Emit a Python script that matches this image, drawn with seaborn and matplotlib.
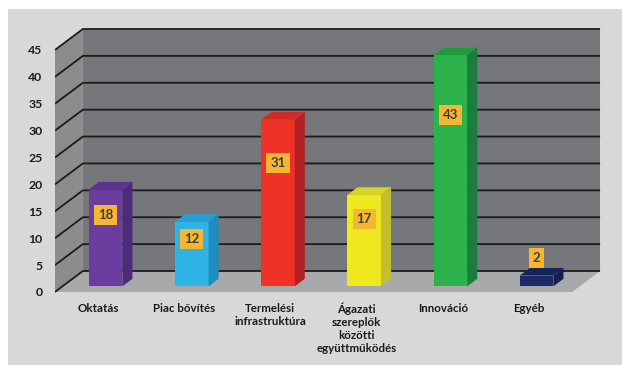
import matplotlib
matplotlib.use("Agg")
import matplotlib.pyplot as plt
from matplotlib.patches import Polygon, Rectangle
import seaborn as sns
import pandas as pd

categories = ["Oktatás", "Piac bővítés", "Termelési\ninfrastruktúra",
              "Ágazati\nszereplők\nközötti\negyüttműködés", "Innováció", "Egyéb"]
values = [18, 12, 31, 17, 43, 2]
yticks = [0, 5, 10, 15, 20, 25, 30, 35, 40, 45]

front_colors = ["#6a3d9e", "#2eb3e6", "#ee3226", "#efe81f", "#2db24b", "#1d2a6a"]
side_colors = ["#4e2a7c", "#1f8cbd", "#b32024", "#c3bf2b", "#1a7d3b", "#141f50"]
top_colors = ["#5b3390", "#27a0d4", "#d22a25", "#d8d426", "#22983f", "#18245c"]

sns.set_style("white")
plt.rcParams["font.family"] = ["Lato", "DejaVu Sans"]

W, H = 622, 365
fig = plt.figure(figsize=(W / 100, H / 100), dpi=100, facecolor="white")
fig.patches.append(Rectangle((8 / W, 0), 1, (H - 9) / H, transform=fig.transFigure,
                             facecolor="#d7d8d7", edgecolor="none", zorder=-10))

# pixel mapping of the front plane
PXX, X0 = 86.2, 98.0
PXY, Y0 = 5.378, 292.0
xlim = (-0.5, 5.95)
ylim = (-0.2, 50.6)
left_px = X0 + xlim[0] * PXX
right_px = X0 + xlim[1] * PXX
top_px = Y0 - ylim[1] * PXY
bot_px = Y0 - ylim[0] * PXY
ax = fig.add_axes([left_px / W, (H - bot_px) / H, (right_px - left_px) / W, (bot_px - top_px) / H])
ax.set_facecolor("none")

# depth vector (front plane -> back wall) in data units
DX = 28 / PXX
DY = 21 / PXY
f0, f1 = 0.27, 0.63
ymax = yticks[-1]
n = len(categories)
xa, xb = -0.5, n - 0.5

# walls and floor
ax.add_patch(Polygon([(xa + DX, DY), (xb + DX, DY), (xb + DX, ymax + DY), (xa + DX, ymax + DY)],
                     closed=True, facecolor="#75777a", edgecolor="none", zorder=0))
ax.add_patch(Polygon([(xa, 0), (xa, ymax), (xa + DX, ymax + DY), (xa + DX, DY)],
                     closed=True, facecolor="#8a8c8e", edgecolor="none", zorder=0))
ax.add_patch(Polygon([(xa, 0), (xb, 0), (xb + DX, DY), (xa + DX, DY)],
                     closed=True, facecolor="#a8a9ab", edgecolor="none", zorder=0.5))
for t in yticks:
    ax.plot([xa, xa + DX, xb + DX], [t, t + DY, t + DY], color="#1c1c1c", lw=1.3,
            solid_capstyle="butt", zorder=1)

df = pd.DataFrame({"cat": categories, "val": values})
sns.barplot(data=df, x="cat", y="val", hue="cat", palette=front_colors, width=0.39,
            saturation=1, legend=False, ax=ax, zorder=3)

bars = [p for c in ax.containers for p in c]
for i, p in enumerate(bars):
    p.set_x(p.get_x() + f0 * DX)
    p.set_y(p.get_y() + f0 * DY)
    p.set_edgecolor("none")
    x, y, w, h = p.get_x(), p.get_y(), p.get_width(), p.get_height()
    ddx, ddy = (f1 - f0) * DX, (f1 - f0) * DY
    ax.add_patch(Polygon([(x + w, y), (x + w + ddx, y + ddy), (x + w + ddx, y + h + ddy), (x + w, y + h)],
                         closed=True, facecolor=side_colors[i], edgecolor="none", zorder=3))
    ax.add_patch(Polygon([(x, y + h), (x + w, y + h), (x + w + ddx, y + h + ddy), (x + ddx, y + h + ddy)],
                         closed=True, facecolor=top_colors[i], edgecolor="none", zorder=3))
    v = values[i]
    ly = y + (0.74 * v if v >= 5 else v + 3.2)
    ax.text(x + w / 2, ly, str(v), ha="center", va="center", fontsize=9.5, fontweight="bold",
            color="#3d3d3d", zorder=6,
            bbox=dict(boxstyle="square,pad=0.3", facecolor="#f6b632", edgecolor="none"))

ax.set_xlim(*xlim)
ax.set_ylim(*ylim)
ax.set_yticks(yticks)
ax.set_yticklabels([str(t) for t in yticks], fontsize=8.8, fontweight="bold", color="#1a1a1a")
ax.set_xticks(range(n))
ax.set_xticklabels(categories, fontsize=8.3, fontweight="bold", color="#1a1a1a", linespacing=1.2)
ax.tick_params(axis="y", length=0, pad=9)
ax.tick_params(axis="x", length=0, pad=7)
ax.set_xlabel("")
ax.set_ylabel("")
for s in ax.spines.values():
    s.set_visible(False)
ax.grid(False)

fig.savefig("out.png", dpi=100, facecolor=fig.get_facecolor())
